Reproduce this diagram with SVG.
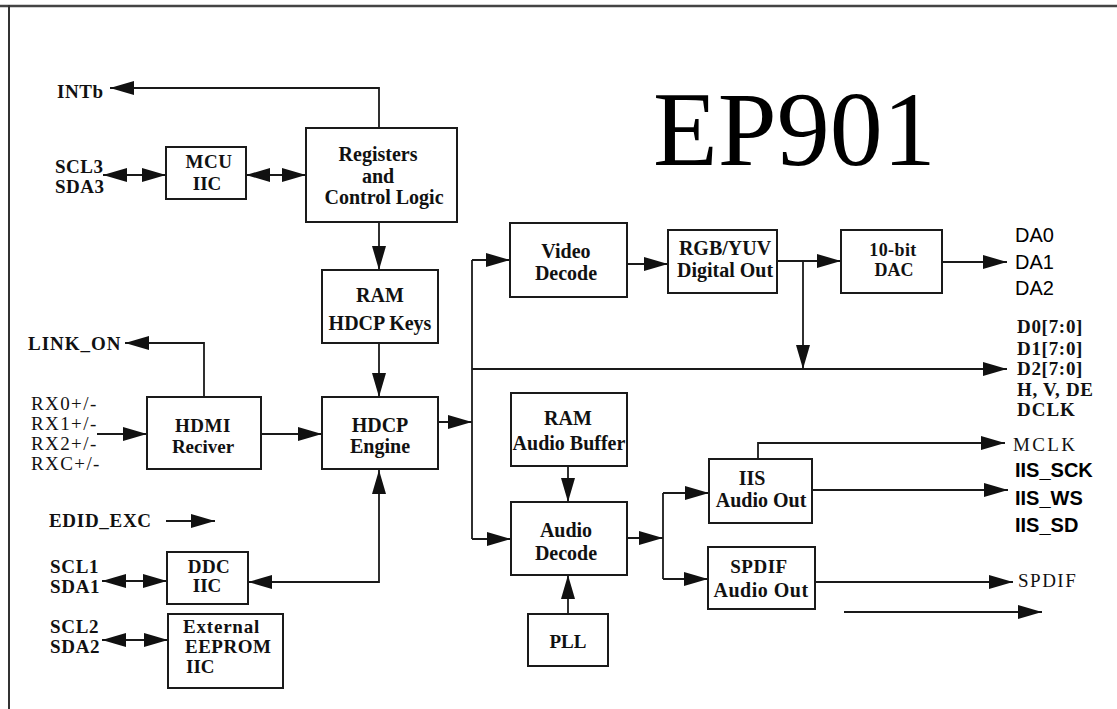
<svg xmlns="http://www.w3.org/2000/svg" width="1117" height="709" viewBox="0 0 1117 709">
<style>
.box{fill:#fff;stroke:#1a1a1a;stroke-width:2}
.ln{fill:none;stroke:#1a1a1a;stroke-width:1.8}
.arr{marker-end:url(#ah)}
.dbl{marker-start:url(#ah);marker-end:url(#ah)}
.t{font-family:"Liberation Serif","Times New Roman",serif;font-weight:bold;font-size:20px;fill:#111;text-anchor:middle}
.sp{font-size:19px;letter-spacing:0.6px}
.l{text-anchor:start}
.n{font-weight:normal}
.a{font-family:"Liberation Sans",Arial,sans-serif;font-size:20px}
</style>
<defs>
<marker id="ah" markerUnits="userSpaceOnUse" viewBox="0 0 24 14" markerWidth="24" markerHeight="14" refX="24" refY="7" orient="auto-start-reverse">
<path d="M0,0 L24,7 L0,14 z" fill="#111"/>
</marker>
</defs>
<rect width="1117" height="709" fill="#fff"/>
<g id="frame">
<line x1="0" y1="6" x2="1117" y2="6" stroke="#444" stroke-width="2.5"/>
<line x1="9" y1="5" x2="9" y2="709" stroke="#333" stroke-width="2"/>
</g>
<text id="title" x="653" y="165" font-family="Liberation Serif,Times New Roman,serif" font-size="106" fill="#000">EP901</text>
<g id="connectors">
<polyline class="ln arr" points="379,128 379,88 110,88"/>
<line class="ln dbl" x1="103" y1="175" x2="166" y2="175"/>
<line class="ln dbl" x1="246" y1="175" x2="306" y2="175"/>
<line class="ln arr" x1="379" y1="222" x2="379" y2="270"/>
<line class="ln arr" x1="379" y1="343" x2="379" y2="397"/>
<polyline class="ln arr" points="204,397 204,343 125,343"/>
<line class="ln arr" x1="97" y1="434" x2="147" y2="434"/>
<line class="ln arr" x1="261" y1="434" x2="322" y2="434"/>
<line class="ln arr" x1="438" y1="422" x2="472" y2="422"/>
<line class="ln" x1="472" y1="260" x2="472" y2="539"/>
<line class="ln arr" x1="472" y1="260" x2="510" y2="260"/>
<line class="ln arr" x1="472" y1="369" x2="1007" y2="369"/>
<line class="ln arr" x1="472" y1="539" x2="511" y2="539"/>
<line class="ln arr" x1="627" y1="264" x2="668" y2="264"/>
<line class="ln arr" x1="777" y1="261" x2="841" y2="261"/>
<line class="ln arr" x1="803" y1="261" x2="803" y2="369"/>
<line class="ln arr" x1="942" y1="262" x2="1007" y2="262"/>
<line class="ln arr" x1="568" y1="466" x2="568" y2="502"/>
<line class="ln arr" x1="568" y1="614" x2="568" y2="575"/>
<line class="ln arr" x1="627" y1="538" x2="663" y2="538"/>
<line class="ln" x1="663" y1="493" x2="663" y2="579"/>
<line class="ln arr" x1="663" y1="493" x2="709" y2="493"/>
<line class="ln arr" x1="663" y1="579" x2="708" y2="579"/>
<polyline class="ln arr" points="758,459 758,443 1005,443"/>
<line class="ln arr" x1="812" y1="490" x2="1008" y2="490"/>
<line class="ln arr" x1="815" y1="582" x2="1013" y2="582"/>
<line class="ln arr" x1="844" y1="612" x2="1042" y2="612"/>
<polyline class="ln dbl" points="248,582 379,582 379,470"/>
<line class="ln arr" x1="166" y1="521" x2="215" y2="521"/>
<line class="ln dbl" x1="102" y1="581" x2="167" y2="581"/>
<line class="ln dbl" x1="102" y1="640" x2="168" y2="640"/>
</g>
<g id="registers"><rect class="box" x="306" y="128" width="151" height="94"/>
<text class="t" x="378" y="161">Registers</text><text class="t" x="378" y="183">and</text><text class="t" x="384" y="204">Control Logic</text></g>
<g id="mcu"><rect class="box" x="166" y="147" width="80" height="52"/>
<text class="t sp" x="209" y="168" style="letter-spacing:0.5px">MCU</text><text class="t sp" x="207" y="190" style="letter-spacing:0">IIC</text></g>
<g id="ramKeys"><rect class="box" x="322" y="270" width="116" height="73"/>
<text class="t" x="380" y="302">RAM</text><text class="t" x="380" y="330">HDCP Keys</text></g>
<g id="hdcp"><rect class="box" x="322" y="397" width="116" height="72"/>
<text class="t" x="380" y="432">HDCP</text><text class="t" x="380" y="453">Engine</text></g>
<g id="hdmi"><rect class="box" x="147" y="397" width="114" height="72"/>
<text class="t sp" x="203" y="432" style="letter-spacing:0.5px">HDMI</text><text class="t" x="203" y="453" style="font-size:19px">Reciver</text></g>
<g id="ddc"><rect class="box" x="167" y="552" width="81" height="52"/>
<text class="t sp" x="209" y="573" style="letter-spacing:0.5px">DDC</text><text class="t sp" x="207" y="592" style="letter-spacing:0">IIC</text></g>
<g id="eeprom"><rect class="box" x="168" y="614" width="115" height="74"/>
<text class="t sp l" x="183" y="633" style="letter-spacing:0.8px">External</text><text class="t sp l" x="185" y="653" style="letter-spacing:0.5px">EEPROM</text><text class="t sp l" x="186" y="673" style="letter-spacing:0">IIC</text></g>
<g id="videoDecode"><rect class="box" x="510" y="223" width="117" height="74"/>
<text class="t" x="566" y="258">Video</text><text class="t" x="566" y="280">Decode</text></g>
<g id="rgbyuv"><rect class="box" x="668" y="230" width="109" height="63"/>
<text class="t" x="725" y="255">RGB/YUV</text><text class="t" x="725" y="277">Digital Out</text></g>
<g id="dac"><rect class="box" x="841" y="230" width="101" height="63"/>
<text class="t sp" x="893" y="256" style="font-size:18px;letter-spacing:0.4px">10-bit</text><text class="t sp" x="894" y="276" style="font-size:18px;letter-spacing:0">DAC</text></g>
<g id="ramAudio"><rect class="box" x="511" y="393" width="116" height="73"/>
<text class="t" x="568" y="425">RAM</text><text class="t" x="569" y="450">Audio Buffer</text></g>
<g id="audioDecode"><rect class="box" x="511" y="502" width="116" height="73"/>
<text class="t" x="566" y="537">Audio</text><text class="t" x="566" y="560">Decode</text></g>
<g id="pll"><rect class="box" x="528" y="614" width="80" height="52"/>
<text class="t sp" x="568" y="648" style="letter-spacing:0">PLL</text></g>
<g id="iis"><rect class="box" x="709" y="459" width="103" height="64"/>
<text class="t" x="752" y="485">IIS</text><text class="t" x="761" y="507">Audio Out</text></g>
<g id="spdif"><rect class="box" x="708" y="547" width="107" height="62"/>
<text class="t sp" x="759" y="573" style="letter-spacing:0.5px">SPDIF</text><text class="t" x="761" y="597" style="letter-spacing:0.5px">Audio Out</text></g>
<g id="labels">
<text class="t sp l" x="57" y="98">INTb</text>
<text class="t sp l" x="55" y="173" style="letter-spacing:0.5px">SCL3</text><text class="t sp l" x="55" y="193" style="letter-spacing:0.5px">SDA3</text>
<text class="t sp l" x="28" y="350" style="letter-spacing:1px">LINK_ON</text>
<text class="t sp l n" x="31" y="410" style="letter-spacing:1.4px">RX0+/-</text>
<text class="t sp l n" x="31" y="430" style="letter-spacing:1.4px">RX1+/-</text>
<text class="t sp l n" x="31" y="450" style="letter-spacing:1.4px">RX2+/-</text>
<text class="t sp l n" x="31" y="470" style="letter-spacing:1.4px">RXC+/-</text>
<text class="t sp l" x="49" y="527" style="letter-spacing:0.7px">EDID_EXC</text>
<text class="t sp l" x="50" y="573" style="letter-spacing:0.7px">SCL1</text><text class="t sp l" x="50" y="593" style="letter-spacing:0.7px">SDA1</text>
<text class="t sp l" x="50" y="633" style="letter-spacing:0.7px">SCL2</text><text class="t sp l" x="50" y="653" style="letter-spacing:0.7px">SDA2</text>
<text class="a l" x="1015" y="242">DA0</text>
<text class="a l" x="1015" y="269">DA1</text>
<text class="a l" x="1015" y="295">DA2</text>
<text class="t sp l" x="1017" y="333" style="letter-spacing:0.7px">D0[7:0]</text>
<text class="t sp l" x="1017" y="355" style="letter-spacing:0.7px">D1[7:0]</text>
<text class="t sp l" x="1017" y="375" style="letter-spacing:0.7px">D2[7:0]</text>
<text class="t sp l" x="1017" y="396" style="letter-spacing:0.7px">H, V, DE</text>
<text class="t sp l" x="1017" y="416" style="letter-spacing:1px">DCLK</text>
<text class="t sp l n" x="1013" y="451" style="letter-spacing:2.4px">MCLK</text>
<text class="a l" x="1015" y="477" font-weight="bold">IIS_SCK</text>
<text class="a l" x="1015" y="505" font-weight="bold">IIS_WS</text>
<text class="a l" x="1015" y="532" font-weight="bold">IIS_SD</text>
<text class="t sp l n" x="1018" y="587" style="letter-spacing:1.5px">SPDIF</text>
</g>
</svg>
